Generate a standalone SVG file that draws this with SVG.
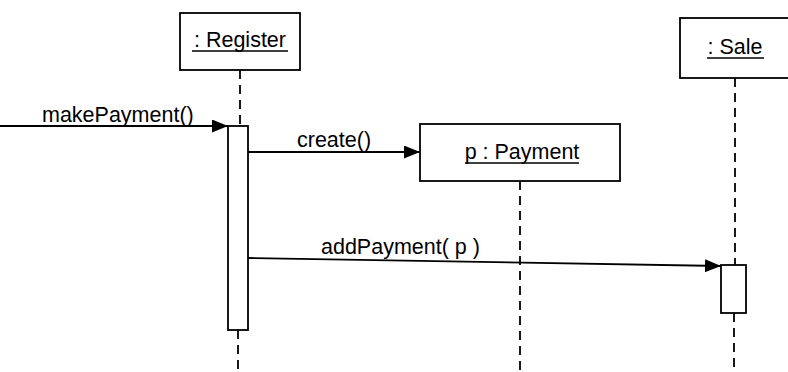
<svg xmlns="http://www.w3.org/2000/svg" width="788" height="372" viewBox="0 0 788 372">
<style>
.box{fill:#fff;stroke:#000;stroke-width:1.8}
.life{stroke:#000;stroke-width:1.8;stroke-dasharray:9,6;fill:none}
.msg{stroke:#000;stroke-width:1.8;fill:none}
.t{font-family:"Liberation Sans",Arial,sans-serif;font-size:21.5px;fill:#000}
</style>
<defs>
<marker id="ah" markerWidth="16" markerHeight="13" refX="16" refY="6.5" orient="auto" markerUnits="userSpaceOnUse">
<path d="M0,0 L16,6.5 L0,13 Z" fill="#000"/>
</marker>
</defs>
<rect width="788" height="372" fill="#fff"/>
<g id="register">
<rect class="box" x="180" y="13" width="120" height="57"/>
<text class="t" x="240" y="47" text-anchor="middle">: Register</text>
<line x1="192" y1="51" x2="288" y2="51" stroke="#000" stroke-width="1.5"/>
<line class="life" x1="240" y1="70" x2="240" y2="126"/>
<line class="life" x1="238" y1="330" x2="238" y2="372"/>
<rect class="box" x="228" y="126" width="20" height="204"/>
</g>
<g id="payment">
<rect class="box" x="420" y="124" width="200" height="57"/>
<text class="t" x="522" y="159" text-anchor="middle">p : Payment</text>
<line x1="465" y1="163" x2="579" y2="163" stroke="#000" stroke-width="1.5"/>
<line class="life" x1="520" y1="181" x2="520" y2="372"/>
</g>
<g id="sale">
<rect class="box" x="680" y="18" width="112" height="60"/>
<text class="t" x="735" y="54" text-anchor="middle">: Sale</text>
<line x1="707" y1="58" x2="764" y2="58" stroke="#000" stroke-width="1.5"/>
<line class="life" x1="735" y1="78" x2="735" y2="265"/>
<line class="life" x1="734" y1="313" x2="734" y2="372"/>
<rect class="box" x="721" y="265" width="25" height="48"/>
</g>
<g id="connectors">
<line class="msg" x1="0" y1="126" x2="228" y2="126" marker-end="url(#ah)"/>
<text class="t" x="42" y="122">makePayment()</text>
<line class="msg" x1="248" y1="152" x2="420" y2="152" marker-end="url(#ah)"/>
<text class="t" x="297" y="147">create()</text>
<line class="msg" x1="248" y1="258" x2="721" y2="266" marker-end="url(#ah)"/>
<text class="t" x="321" y="254">addPayment( p )</text>
</g>
</svg>
